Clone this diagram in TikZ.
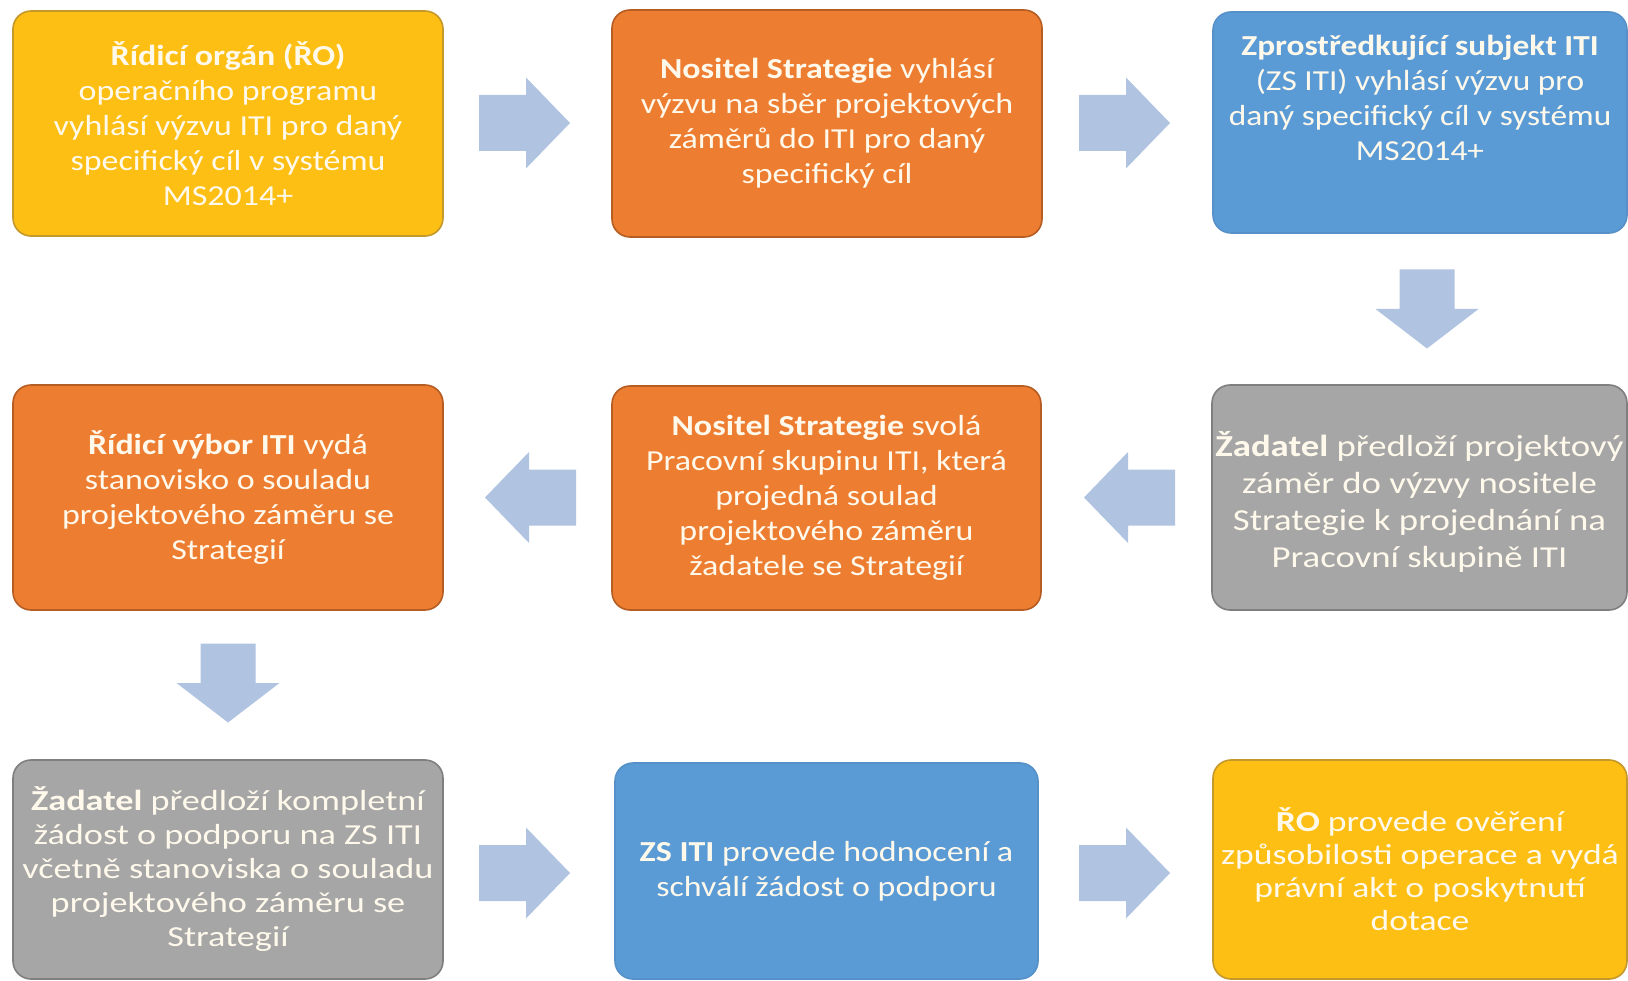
\documentclass[tikz,border=0pt]{standalone}
\usepackage{fontspec}
\setmainfont{Carlito}[FakeStretch=1.17]
\newfontfamily\fontc{Carlito}[FakeStretch=1.15]
\newfontfamily\fontf{Carlito}[FakeStretch=1.205]
\newfontfamily\fontg{Carlito}[FakeStretch=1.25]
\newfontfamily\fonti{Carlito}[FakeStretch=1.23]
\definecolor{cyel}{HTML}{FDBF13}
\definecolor{cyeld}{HTML}{C4982A}
\definecolor{cora}{HTML}{ED7D31}
\definecolor{corad}{HTML}{B55D22}
\definecolor{cblu}{HTML}{5B9BD5}
\definecolor{cblud}{HTML}{5590C9}
\definecolor{cgry}{HTML}{A6A6A6}
\definecolor{cgryd}{HTML}{7F7F7F}
\definecolor{carr}{HTML}{B0C4E2}
\definecolor{ctxt}{HTML}{FFF9EC}
\tikzset{
  box/.style={rectangle, rounded corners=18pt, line width=1.6pt, inner sep=4pt,
    align=center, text=ctxt, font=\fontsize{29}{35}\selectfont},
  yelbox/.style={box, fill=cyel, draw=cyeld},
  orabox/.style={box, fill=cora, draw=corad},
  blubox/.style={box, fill=cblu, draw=cblud},
  grybox/.style={box, fill=cgry, draw=cgryd},
  rarr/.pic={\fill[carr] (-45.5,-28) -- (1.5,-28) -- (1.5,-45.5) -- (45.5,0) -- (1.5,45.5) -- (1.5,28) -- (-45.5,28) -- cycle;},
  larr/.pic={\fill[carr] (45.5,-28) -- (-1.5,-28) -- (-1.5,-45.5) -- (-45.5,0) -- (-1.5,45.5) -- (-1.5,28) -- (45.5,28) -- cycle;},
  darr/.pic={\fill[carr] (-27.5,-39.5) -- (27.5,-39.5) -- (27.5,0) -- (51.5,0) -- (0,39.5) -- (-51.5,0) -- (-27.5,0) -- cycle;}
}
\begin{document}
\begin{tikzpicture}[x=1pt,y=-1pt]
\useasboundingbox[fill=white] (0,0) rectangle (1628,981);
% row 1
\node[yelbox, minimum width=430, minimum height=225] (b1) at (228,123.5)
  {\textbf{Řídicí orgán (ŘO)}\\operačního programu\\vyhlásí výzvu ITI pro daný\\specifický cíl v systému\\MS2014+};
\node[orabox, minimum width=430, minimum height=227] (b2) at (827,123.5)
  {\textbf{Nositel Strategie} vyhlásí\\výzvu na sběr projektových\\záměrů do ITI pro daný\\specifický cíl};
\node[blubox, minimum width=414, minimum height=221, font=\fontsize{29}{35}\fontc] (b3) at (1420,122.5)
  {\textbf{Zprostředkující subjekt ITI}\\(ZS ITI) vyhlásí výzvu pro\\daný specifický cíl v systému\\MS2014+\\[15pt]};
% row 2
\node[orabox, minimum width=430, minimum height=225] (b4) at (228,497.5)
  {\textbf{Řídicí výbor ITI} vydá\\stanovisko o souladu\\projektového záměru se\\Strategií};
\node[orabox, minimum width=429, minimum height=224] (b5) at (826.5,498)
  {\textbf{Nositel Strategie} svolá\\Pracovní skupinu ITI, která\\projedná soulad\\projektového záměru\\žadatele se Strategií};
\node[grybox, minimum width=415, minimum height=225, inner xsep=0pt, font=\fontsize{30.5}{37}\fontf] (b6) at (1419.5,497.5)
  {\rule{0pt}{34pt}\textbf{Žadatel} předloží projektový\\záměr do výzvy nositele\\Strategie k projednání na\\Pracovní skupině ITI};
% row 3
\node[grybox, minimum width=430, minimum height=219, font=\fontsize{29}{34}\fontg] (b7) at (228,869.5)
  {\textbf{Žadatel} předloží kompletní\\žádost o podporu na ZS ITI\\včetně stanoviska o souladu\\projektového záměru se\\Strategií};
\node[blubox, minimum width=423, minimum height=216] (b8) at (826.5,871)
  {\textbf{ZS ITI} provede hodnocení a\\schválí žádost o podporu};
\node[yelbox, minimum width=414, minimum height=219, font=\fontsize{29}{33}\fonti] (b9) at (1420,869.5)
  {\textbf{ŘO} provede ověření\\způsobilosti operace a vydá\\právní akt o poskytnutí\\dotace};
% block arrows
\pic at (524.5,123) {rarr};
\pic at (1124.5,123) {rarr};
\pic at (1427,309) {darr};
\pic at (1129.5,497.5) {larr};
\pic at (530.5,497.5) {larr};
\pic at (228,683) {darr};
\pic at (524.5,873) {rarr};
\pic at (1124.5,873) {rarr};
\end{tikzpicture}
\end{document}
